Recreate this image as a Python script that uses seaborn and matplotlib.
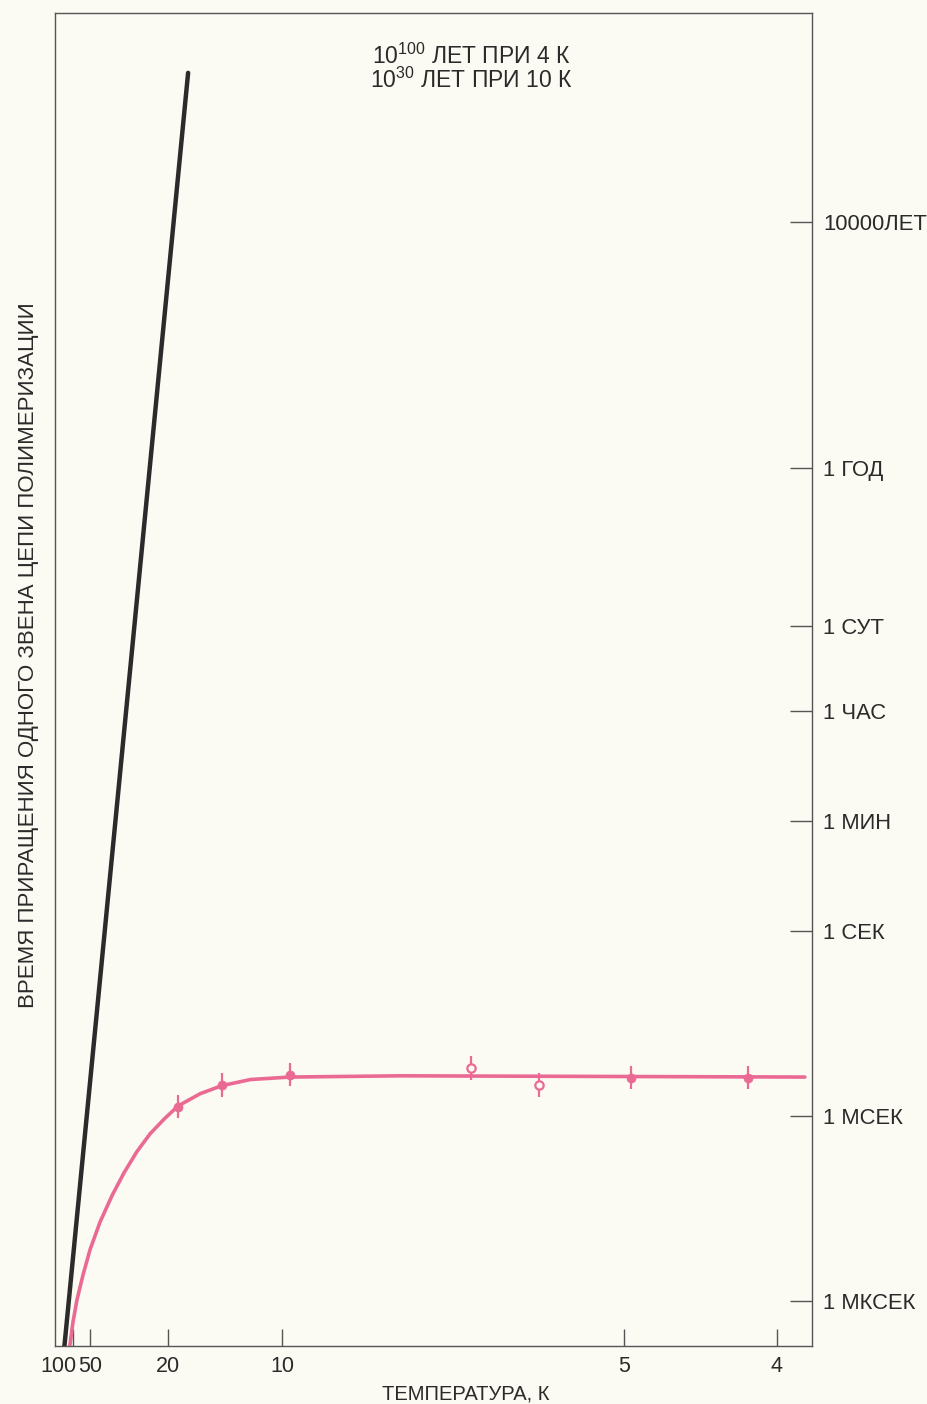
import numpy as np
import pandas as pd
import matplotlib
matplotlib.use("Agg")
import matplotlib.pyplot as plt
import matplotlib.transforms as mtransforms
from matplotlib.ticker import FixedLocator, FixedFormatter, NullLocator
import seaborn as sns

# ---------------- data ----------------
temp_ticks = [100, 50, 20, 10, 5, 4]
temp_tick_labels = ["100", "50", "20", "10", "5", "4"]

time_ticks_s = [3.156e11, 3.156e7, 86400, 3600, 60, 1, 1e-3, 1e-6]
time_tick_labels = ["10000ЛЕТ", "1 ГОД", "1 СУТ", "1 ЧАС", "1 МИН",
                    "1 СЕК", "1 МСЕК", "1 МКСЕК"]

# classical (Arrhenius) expectation, log10 of seconds
classic_T = [200.0, 17.0]
classic_log_t = [-6.80, 13.91]

# measured curve, log10 of seconds
curve_T = [128, 100, 81.0, 63.0, 50, 41.9, 35.1, 30.2, 26.3, 23.2, 20.6,
           18.4, 15.6, 13.6, 11.6, 9.77, 7.43, 3.86]
curve_log_t = [-6.82, -6.34, -5.98, -5.58, -5.17, -4.72, -4.29, -3.92,
               -3.58, -3.29, -3.05, -2.84, -2.64, -2.51, -2.41, -2.37,
               -2.35, -2.37]

# experimental points
filled_T = [18.4, 13.6, 9.77, 4.94, 4.16]
filled_log_t = [-2.85, -2.50, -2.33, -2.38, -2.38]
open_T = [6.44, 5.71]
open_log_t = [-2.22, -2.50]
err_decades = 0.19

# ---------------- style ----------------
sns.set_theme(style="white")
plt.rcParams["font.family"] = ["Liberation Sans", "DejaVu Sans"]
plt.rcParams["mathtext.fontset"] = "custom"
plt.rcParams["mathtext.rm"] = "Liberation Sans"

BG = "#fbfbf3"
PINK = "#ea6a93"
BLACK = "#2b2b2b"
SPINE = "#555555"
TXT = "#2a2a2a"

W, H = 927, 1404
fig = plt.figure(figsize=(W / 100, H / 100), dpi=100, facecolor=BG)
ax = fig.add_axes([55 / W, 1 - 1346 / H, 757 / W, 1333 / H], facecolor=BG)

# temperature axis: reciprocal-temperature style scale as drawn on the figure
inv_knots = np.array([0.0, 0.01, 0.02, 0.05, 0.1, 0.2, 0.25, 0.2614])
pos_knots = np.array([55, 73, 90, 168, 282, 624, 777, 812], dtype=float)


def fwd(T):
    T = np.asarray(T, dtype=float)
    with np.errstate(divide="ignore", invalid="ignore"):
        inv = np.where(T > 0, 1.0 / T, 0.0)
    return np.interp(inv, inv_knots, pos_knots)


def inv_f(p):
    p = np.asarray(p, dtype=float)
    inv = np.interp(p, pos_knots, inv_knots)
    return 1.0 / np.maximum(inv, 1e-12)


ax.set_xscale("function", functions=(fwd, inv_f))
ax.set_yscale("log")

df_classic = pd.DataFrame({"T": classic_T, "t": 10.0 ** np.array(classic_log_t)})
df_curve = pd.DataFrame({"T": curve_T, "t": 10.0 ** np.array(curve_log_t)})
df_filled = pd.DataFrame({"T": filled_T, "t": 10.0 ** np.array(filled_log_t)})
df_open = pd.DataFrame({"T": open_T, "t": 10.0 ** np.array(open_log_t)})

sns.lineplot(data=df_classic, x="T", y="t", sort=False, color=BLACK,
             linewidth=3.2, ax=ax, zorder=3)
sns.lineplot(data=df_curve, x="T", y="t", sort=False, color=PINK,
             linewidth=2.6, ax=ax, zorder=3)

for d in (df_filled, df_open):
    lo = d["t"] - d["t"] * 10.0 ** (-err_decades)
    hi = d["t"] * 10.0 ** err_decades - d["t"]
    ax.errorbar(d["T"], d["t"], yerr=[lo, hi], fmt="none", ecolor=PINK,
                elinewidth=1.6, capsize=0, zorder=4)

sns.scatterplot(data=df_filled, x="T", y="t", color=PINK, edgecolor=PINK,
                s=42, ax=ax, zorder=5)
sns.scatterplot(data=df_open, x="T", y="t", color=BG, edgecolor=PINK,
                linewidth=1.6, s=36, ax=ax, zorder=5)

ax.set_xlim(1e12, 3.825)
ax.set_ylim(10 ** -6.73, 10 ** 14.88)
# make sure high temperatures are on the left, low on the right
if ax.transData.transform((4, 1))[0] < ax.transData.transform((100, 1))[0]:
    ax.invert_xaxis()

# x ticks
ax.xaxis.set_major_locator(FixedLocator(temp_ticks))
ax.xaxis.set_major_formatter(FixedFormatter(temp_tick_labels))
ax.xaxis.set_minor_locator(NullLocator())
ax.tick_params(axis="x", direction="in", length=12, width=1.0, color=SPINE,
               pad=7, labelsize=15.5, labelcolor=TXT, bottom=True, top=False)
# shift "100" label left as in the original
lab100 = ax.get_xticklabels()[0]
lab100.set_transform(lab100.get_transform() +
                     mtransforms.ScaledTranslation(-15 / 100, 0, fig.dpi_scale_trans))

# y ticks on the right
ax.yaxis.tick_right()
ax.yaxis.set_major_locator(FixedLocator(time_ticks_s))
ax.yaxis.set_major_formatter(FixedFormatter(time_tick_labels))
ax.yaxis.set_minor_locator(NullLocator())
ax.tick_params(axis="y", direction="in", length=16, width=1.0, color=SPINE,
               pad=8, labelsize=15.8, labelcolor=TXT, left=False, right=True)

ax.set_xlabel("")
ax.set_ylabel("")
for s in ax.spines.values():
    s.set_color(SPINE)
    s.set_linewidth(1.0)
    s.set_visible(True)

# texts
fig.text(471 / W, 1 - 56 / H, "10$^{\\mathregular{100}}$ ЛЕТ ПРИ 4 К",
         ha="center", va="center", fontsize=16.5, color=TXT)
fig.text(471 / W, 1 - 80 / H, "10$^{\\mathregular{30}}$ ЛЕТ ПРИ 10 К",
         ha="center", va="center", fontsize=16.5, color=TXT)
fig.text(466 / W, 1 - 1394 / H, "ТЕМПЕРАТУРА, К", ha="center", va="center",
         fontsize=14.5, color=TXT)
fig.text(29 / W, 1 - 655 / H,
         "ВРЕМЯ ПРИРАЩЕНИЯ ОДНОГО ЗВЕНА ЦЕПИ ПОЛИМЕРИЗАЦИИ",
         ha="center", va="center", rotation=90, fontsize=16, color=TXT)

fig.savefig("out.png", dpi=100, facecolor=BG)
